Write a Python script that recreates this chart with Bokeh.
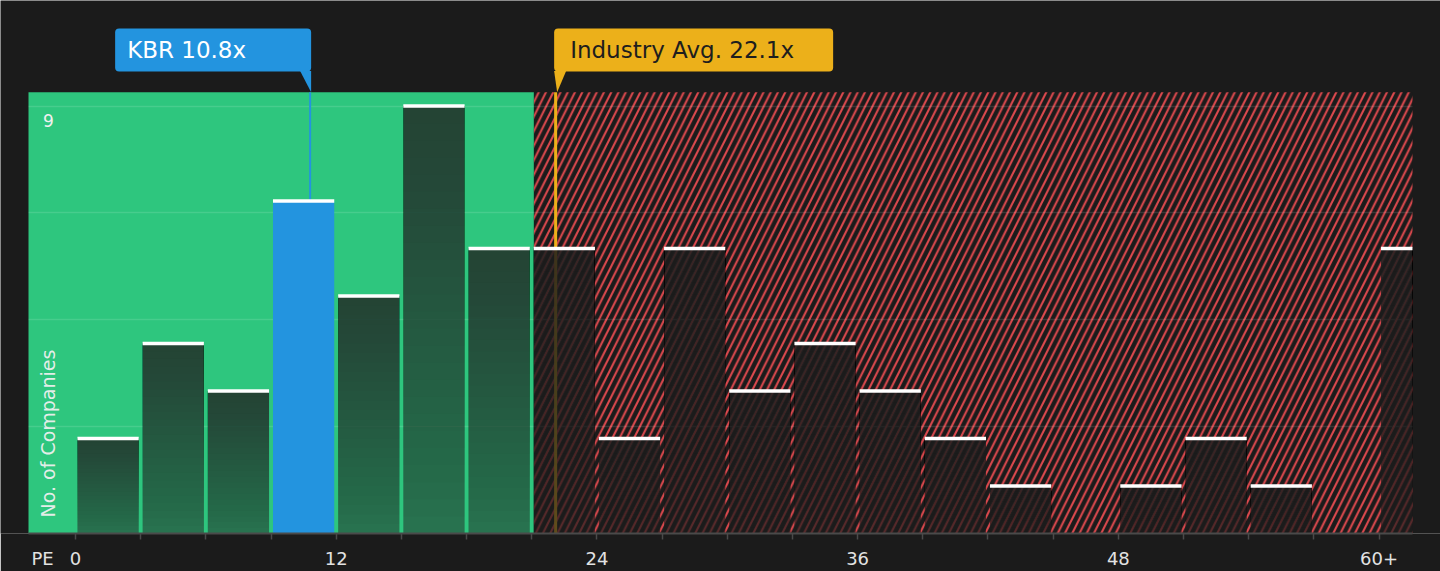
import math
from bokeh.plotting import figure
from bokeh.models import Range1d, FixedTicker, Grid, BoxAnnotation, Label, LinearAxis
from bokeh.embed import file_html
from bokeh.resources import INLINE

# ---------------- data ----------------
bin_left = list(range(0, 61, 3))          # PE bins (last one is 60+)
counts = [2, 4, 3, 7, 5, 9, 6, 6, 2, 6, 3, 4, 3, 2, 1, 0, 1, 2, 1, 0, 6]
bin_width = 3
tick_values = list(range(0, 61, 3))
tick_labels = {0: "0", 12: "12", 24: "24", 36: "36", 48: "48", 60: "60+"}
axis_title = "PE"
grid_values = [2.25, 4.5, 6.75, 9]
y_label_value = 9
company_name = "KBR"
company_pe = 10.8
industry_avg = 22.1
fair_upper = 21.1
company_text = f"{company_name} {company_pe}x"
industry_text = f"Industry Avg. {industry_avg}x"

# ---------------- style / layout ----------------
BG = "#1b1b1b"
GREEN = "#2ec67e"
RED = "#de494e"
BLUE = "#2394df"
YELLOW = "#ecb01a"
BAR_DARK_G = "#242a27"
BAR_DARK_R = "#1c1c1c"
FONT = "DejaVu Sans"

W, H = 1440, 571
BORDER_B = 36
PAD_PX = 28                      # dark margin left/right of the plotted area
X_START, X_END = -2.163, 61.54   # plotted area
PXX = (W - 2 * PAD_PX) / (X_END - X_START)
VIEW_START, VIEW_END = X_START - PAD_PX / PXX, X_END + PAD_PX / PXX
FRAME_H = H - BORDER_B
Y_END = 11.223
REGION_TOP = 9.29
PXY = FRAME_H / Y_END
BAR_INSET = 0.09

p = figure(width=W, height=H, x_range=Range1d(VIEW_START, VIEW_END), y_range=Range1d(0, Y_END),
           y_axis_location=None, toolbar_location=None, output_backend="svg",
           min_border_left=0, min_border_right=0, min_border_top=0, min_border_bottom=BORDER_B,
           background_fill_color=BG, border_fill_color=BG, outline_line_color=None)
for g in list(p.grid):
    g.visible = False

# background regions
p.add_layout(BoxAnnotation(left=X_START, right=fair_upper, bottom=0, top=REGION_TOP,
                           fill_color=GREEN, fill_alpha=1, line_color=None, level="image"))
p.add_layout(BoxAnnotation(left=fair_upper, right=X_END, bottom=0, top=REGION_TOP,
                           fill_color=BG, fill_alpha=1, line_color=None,
                           hatch_pattern="/", hatch_color=RED, hatch_weight=2.0,
                           hatch_scale=14.5, hatch_alpha=1, level="image"))

# horizontal grid
grid = Grid(dimension=1, ticker=FixedTicker(ticks=grid_values),
            grid_line_color="white", grid_line_alpha=0.12, grid_line_width=1.5)
if "cross_bounds" in Grid.properties():
    grid.cross_bounds = (X_START, X_END)
p.add_layout(grid)

# marker lines
p.segment(x0=[industry_avg], x1=[industry_avg], y0=[0], y1=[REGION_TOP],
          line_color=YELLOW, line_width=3)
p.segment(x0=[company_pe], x1=[company_pe], y0=[0], y1=[REGION_TOP],
          line_color=BLUE, line_width=2)

# bars
lefts = [b + BAR_INSET for b in bin_left]
rights = [min(b + bin_width - BAR_INSET, X_END) for b in bin_left]
kbr_idx = [i for i, b in enumerate(bin_left) if b <= company_pe < b + bin_width]
green_idx = [i for i, b in enumerate(bin_left) if b + bin_width <= fair_upper and i not in kbr_idx]
red_idx = [i for i, b in enumerate(bin_left) if b + bin_width > fair_upper and i not in kbr_idx]

N_LAYERS = 24


def gradient_quads(idx, base_alpha, top_alpha, color):
    L, R, B, T, A = [], [], [], [], []
    step = 1 - ((1 - top_alpha) / (1 - base_alpha)) ** (1 / N_LAYERS)
    for i in idx:
        c = counts[i]
        if c <= 0:
            continue
        L.append(lefts[i]); R.append(rights[i]); B.append(0); T.append(c); A.append(base_alpha)
        for k in range(1, N_LAYERS + 1):
            L.append(lefts[i]); R.append(rights[i]); B.append(c * k / (N_LAYERS + 1)); T.append(c)
            A.append(step)
    p.quad(left=L, right=R, bottom=B, top=T, fill_color=color, fill_alpha=A, line_color=None)


gradient_quads(green_idx, 0.54, 0.77, BAR_DARK_G)
gradient_quads(red_idx, 0.68, 0.84, BAR_DARK_R)
p.quad(left=[lefts[i] for i in kbr_idx], right=[rights[i] for i in kbr_idx],
       bottom=[0 for i in kbr_idx], top=[counts[i] for i in kbr_idx],
       fill_color=BLUE, line_color=None)

cap_idx = [i for i in range(len(counts)) if counts[i] > 0]
p.segment(x0=[lefts[i] for i in cap_idx], x1=[rights[i] for i in cap_idx],
          y0=[counts[i] for i in cap_idx], y1=[counts[i] for i in cap_idx],
          line_color="white", line_width=3.5)

# callouts
BOX_GAP_PX, BOX_H_PX = 21, 43
box_bottom = REGION_TOP + BOX_GAP_PX / PXY
box_top = box_bottom + BOX_H_PX / PXY
box_mid = (box_bottom + box_top) / 2

kbr_right = company_pe + 1 / PXX
kbr_left = kbr_right - 196 / PXX
p.add_layout(BoxAnnotation(left=kbr_left, right=kbr_right, bottom=box_bottom, top=box_top,
                           fill_color=BLUE, fill_alpha=1, line_color=None, border_radius=4,
                           level="overlay"))
p.patch(x=[kbr_right - 11 / PXX, kbr_right, kbr_right], y=[box_bottom + 0.01, box_bottom + 0.01, REGION_TOP],
        fill_color=BLUE, line_color=None)
p.add_layout(Label(x=kbr_left + 12 / PXX, y=box_mid, text=company_text, text_font=FONT,
                   text_font_size="23px", text_color="white", text_baseline="middle",
                   text_align="left", level="overlay"))

ind_left = industry_avg - 1.5 / PXX
ind_right = ind_left + 279 / PXX
p.add_layout(BoxAnnotation(left=ind_left, right=ind_right, bottom=box_bottom, top=box_top,
                           fill_color=YELLOW, fill_alpha=1, line_color=None, border_radius=4,
                           level="overlay"))
p.patch(x=[ind_left, ind_left + 12 / PXX, ind_left + 3 / PXX],
        y=[box_bottom + 0.01, box_bottom + 0.01, REGION_TOP],
        fill_color=YELLOW, line_color=None)
p.add_layout(Label(x=ind_left + 16 / PXX, y=box_mid, text=industry_text, text_font=FONT,
                   text_font_size="23px", text_color="#1e1e1e", text_baseline="middle",
                   text_align="left", level="overlay"))

# axis 1: line + tick marks only
AXIS_GRAY = "#4a4a4a"
ax = p.xaxis[0]
ax.ticker = FixedTicker(ticks=tick_values)
ax.bounds = (X_START, X_END)
ax.major_label_overrides = {t: "" for t in tick_values}
ax.major_label_text_font_size = "0px"
ax.major_label_standoff = 0
ax.axis_line_color = AXIS_GRAY
ax.axis_line_width = 2
ax.major_tick_line_color = AXIS_GRAY
ax.major_tick_line_width = 1.5
ax.major_tick_out = 6
ax.major_tick_in = 0
ax.minor_tick_out = 0
ax.minor_tick_in = 0

# axis 2: tick labels incl. the "PE" title
pe_pos = round(-33 / PXX, 3)
label_ticks = [pe_pos] + sorted(tick_labels)
overrides = {pe_pos: axis_title}
overrides.update(tick_labels)
ax2 = LinearAxis(ticker=FixedTicker(ticks=label_ticks), major_label_overrides=overrides,
                 axis_line_color=None, major_tick_line_color=None, minor_tick_line_color=None,
                 major_tick_out=0, major_tick_in=0, minor_tick_out=0, minor_tick_in=0,
                 major_label_standoff=8, major_label_text_font=FONT,
                 major_label_text_font_size="18px", major_label_text_color="#e2e2e2")
p.add_layout(ax2, "below")

p.add_layout(Label(x=-27 / PXX, y=y_label_value, y_offset=-14, text=str(y_label_value),
                   text_font=FONT, text_font_size="17px", text_color="#f0f0f0",
                   text_baseline="middle", text_align="center"))
p.add_layout(Label(x=-27 / PXX, y=16 / PXY, text="No. of Companies", text_font=FONT,
                   text_font_size="19px", text_color="#f0f0f0", text_alpha=0.95,
                   text_baseline="middle", text_align="left", angle=math.pi / 2))

open("out.html", "w").write(file_html(p, INLINE))
